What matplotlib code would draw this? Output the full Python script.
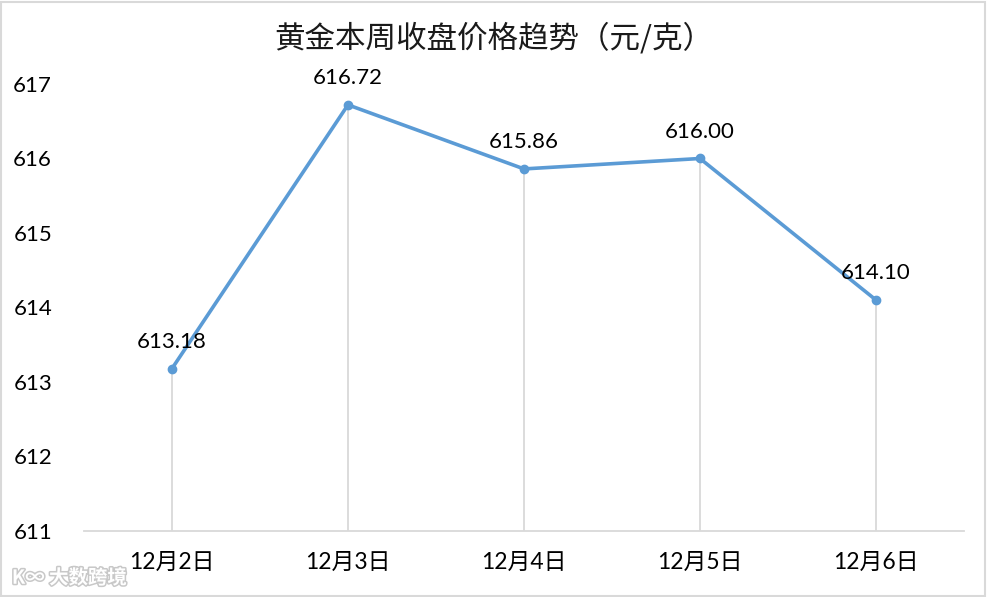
import matplotlib
matplotlib.use("Agg")
import matplotlib.pyplot as plt
from matplotlib.patches import Rectangle
import matplotlib.patheffects as pe

categories = ["12月2日", "12月3日", "12月4日", "12月5日", "12月6日"]
prices = [613.18, 616.72, 615.86, 616.00, 614.10]
yticks = [611, 612, 613, 614, 615, 616, 617]
title = "黄金本周收盘价格趋势（元/克）"

fam = ["Lato", "Noto Sans CJK SC", "DejaVu Sans"]
plt.rcParams['font.family'] = fam

fig = plt.figure(figsize=(9.88, 5.97), dpi=100)
ax = fig.add_axes([0.085, 0.1106, 0.8907, 0.7487])

x = list(range(len(categories)))
ax.vlines(x, yticks[0], prices, colors="#D9D9D9", linewidth=1.3, zorder=1)
ax.plot(x, prices, color="#5B9BD5", linewidth=2.6, marker="o", markersize=6,
        zorder=3, solid_capstyle="round")
for xi, v in zip(x, prices):
    ax.annotate(f"{v:.2f}", (xi, v), xytext=(0, 12), textcoords="offset points",
                ha="center", va="bottom", fontsize=16, color="#000000")

ax.set_xlim(-0.5, len(categories) - 0.5)
ax.set_ylim(yticks[0], yticks[-1])
ax.set_yticks(yticks)
ax.set_yticklabels([str(t) for t in yticks], fontsize=16)
ax.set_xticks(x)
ax.set_xticklabels(categories, fontsize=16.5)
ax.tick_params(axis="y", length=0, pad=23)
ax.tick_params(axis="x", length=0, pad=15)
for s in ["top", "right", "left"]:
    ax.spines[s].set_visible(False)
ax.spines["bottom"].set_color("#D9D9D9")
ax.spines["bottom"].set_linewidth(1.3)

fig.text(0.5, 0.935, title, ha="center", va="center", fontsize=22,
         family=["Noto Sans CJK SC", "DejaVu Sans"], color="#1a1a1a")

# watermark
fig.text(0.012, 0.032, "K∞ 大数跨境", ha="left", va="center", fontsize=14,
         family=["Noto Sans CJK SC", "DejaVu Sans"], color="#ffffff", fontweight="bold",
         path_effects=[pe.withStroke(linewidth=2.2, foreground="#c8c8c8")], zorder=0)

# figure border
fig.patches.append(Rectangle((0.001, 0.002), 0.996, 0.995, transform=fig.transFigure,
                             fill=False, edgecolor="#D9D9D9", linewidth=1.5))

fig.savefig("out.png", dpi=100)
